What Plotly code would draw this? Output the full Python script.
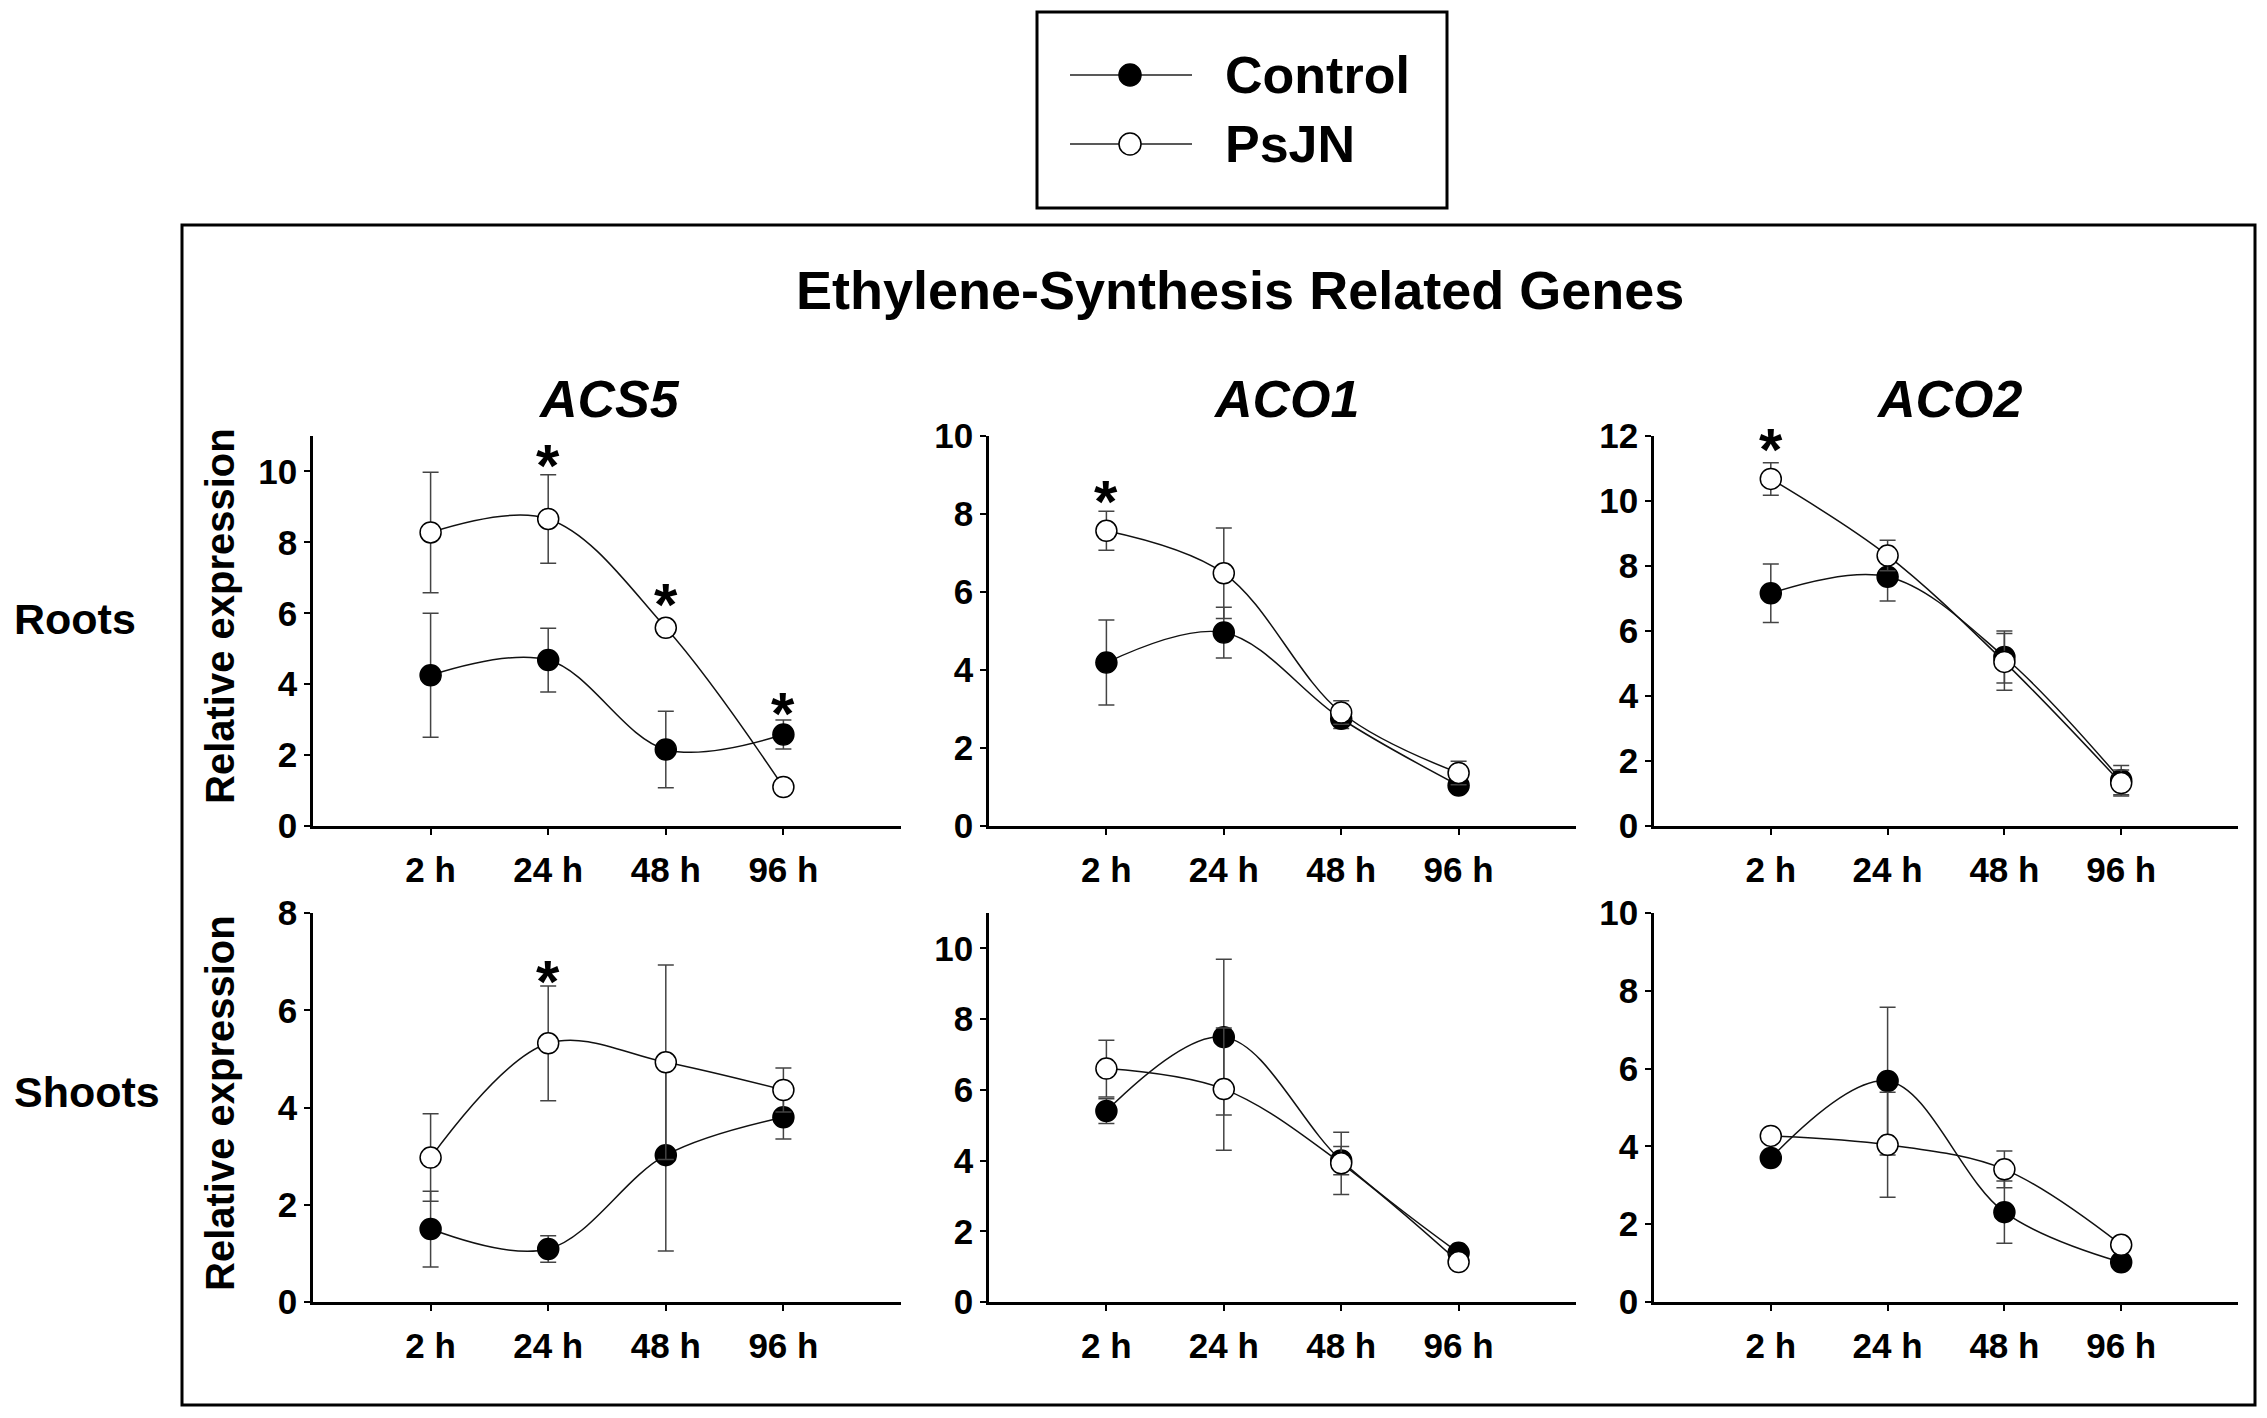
import plotly.graph_objects as go

W, H = 2267, 1418
FONT = "Liberation Sans"

times = ["2 h", "24 h", "48 h", "96 h"]
xpos = [0, 1, 2, 3]

genes = ["ACS5", "ACO1", "ACO2"]
rows = ["Roots", "Shoots"]

# Roots
acs5_root_ctrl = [4.25, 4.68, 2.16, 2.58]
acs5_root_ctrl_err = [1.75, 0.90, 1.08, 0.41]
acs5_root_psjn = [8.28, 8.66, 5.59, 1.10]
acs5_root_psjn_err = [1.70, 1.25, 0.15, 0.10]

aco1_root_ctrl = [4.19, 4.96, 2.75, 1.04]
aco1_root_ctrl_err = [1.09, 0.65, 0.25, 0.15]
aco1_root_psjn = [7.57, 6.48, 2.91, 1.36]
aco1_root_psjn_err = [0.50, 1.16, 0.30, 0.30]

aco2_root_ctrl = [7.16, 7.67, 5.20, 1.41]
aco2_root_ctrl_err = [0.90, 0.75, 0.80, 0.45]
aco2_root_psjn = [10.68, 8.32, 5.05, 1.32]
aco2_root_psjn_err = [0.50, 0.47, 0.87, 0.40]

# Shoots
acs5_shoot_ctrl = [1.50, 1.09, 3.02, 3.80]
acs5_shoot_ctrl_err = [0.78, 0.27, 1.97, 0.45]
acs5_shoot_psjn = [2.97, 5.32, 4.93, 4.36]
acs5_shoot_psjn_err = [0.90, 1.18, 2.00, 0.45]

aco1_shoot_ctrl = [5.40, 7.49, 4.00, 1.39]
aco1_shoot_ctrl_err = [0.35, 2.20, 0.40, 0.10]
aco1_shoot_psjn = [6.60, 6.02, 3.92, 1.13]
aco1_shoot_psjn_err = [0.80, 1.73, 0.88, 0.10]

aco2_shoot_ctrl = [3.70, 5.68, 2.31, 1.02]
aco2_shoot_ctrl_err = [0.15, 1.90, 0.80, 0.10]
aco2_shoot_psjn = [4.27, 4.04, 3.41, 1.47]
aco2_shoot_psjn_err = [0.15, 1.35, 0.47, 0.10]

# significance marks: (panel index, time index, y value of asterisk)
asterisks = [(0, 1, 10.38), (0, 2, 6.47), (0, 3, 3.41), (1, 0, 8.53), (2, 0, 11.83), (3, 1, 6.76)]

panels = [
    (acs5_root_ctrl, acs5_root_ctrl_err, acs5_root_psjn, acs5_root_psjn_err),
    (aco1_root_ctrl, aco1_root_ctrl_err, aco1_root_psjn, aco1_root_psjn_err),
    (aco2_root_ctrl, aco2_root_ctrl_err, aco2_root_psjn, aco2_root_psjn_err),
    (acs5_shoot_ctrl, acs5_shoot_ctrl_err, acs5_shoot_psjn, acs5_shoot_psjn_err),
    (aco1_shoot_ctrl, aco1_shoot_ctrl_err, aco1_shoot_psjn, aco1_shoot_psjn_err),
    (aco2_shoot_ctrl, aco2_shoot_ctrl_err, aco2_shoot_psjn, aco2_shoot_psjn_err),
]
yranges = [11, 10, 12, 8, 11, 10]

# layout geometry in pixels
col_px = [(313, 901), (989, 1576), (1654, 2238)]
col_xrange = [(-1.0, 4.0), (-1.0, 4.0), (-1.0, 4.0)]
row_px = [(436, 826), (913, 1302)]

def px_x(p):
    return p / W

def px_y(p):
    return 1 - p / H

fig = go.Figure()
layout = dict(
    template="none",
    width=W, height=H, margin=dict(l=0, r=0, t=0, b=0, pad=0, autoexpand=False),
    paper_bgcolor="white", plot_bgcolor="white", showlegend=False,
    font=dict(family=FONT, color="black"),
)
annotations = []
shapes = []

for i, (c, ce, p, pe) in enumerate(panels):
    r, col = divmod(i, 3)
    n = i + 1
    xa = "x" if n == 1 else f"x{n}"
    ya = "y" if n == 1 else f"y{n}"
    xkey = "xaxis" if n == 1 else f"xaxis{n}"
    ykey = "yaxis" if n == 1 else f"yaxis{n}"
    for vals, errs, fill in ((c, ce, "black"), (p, pe, "white")):
        fig.add_trace(go.Scatter(
            x=xpos, y=vals, xaxis=xa, yaxis=ya, mode="lines+markers",
            line=dict(color="#111", width=1.5, shape="spline", smoothing=1.0),
            marker=dict(symbol="circle", size=21, color=fill, line=dict(color="black", width=1.5)),
            error_y=dict(type="data", array=errs, visible=True, color="#444", thickness=1.5, width=8),
            cliponaxis=False,
        ))
    x0, x1 = col_px[col]
    y0, y1 = row_px[r]
    layout[xkey] = dict(
        domain=[px_x(x0), px_x(x1)], anchor=ya, range=list(col_xrange[col]), automargin=False,
        tickmode="array", tickvals=xpos, ticktext=times, showgrid=False, zeroline=False,
        showline=True, linecolor="black", linewidth=2.5, ticks="outside",
        ticklen=6, tickwidth=2, tickcolor="black", ticklabelstandoff=5,
        tickfont=dict(family=FONT, size=35, color="black", weight="bold"),
    )
    layout[ykey] = dict(
        domain=[px_y(y1), px_y(y0)], anchor=xa, range=[0, yranges[i]], automargin=False,
        tickmode="array", tickvals=list(range(0, yranges[i] + 1, 2)), showgrid=False, zeroline=False,
        showline=True, linecolor="black", linewidth=2.5, ticks="outside",
        ticklen=6, tickwidth=2, tickcolor="black",
        tickfont=dict(family=FONT, size=35, color="black", weight="bold"),
    )

for (pi, ti, yv) in asterisks:
    n = pi + 1
    xa = "x" if n == 1 else f"x{n}"
    ya = "y" if n == 1 else f"y{n}"
    annotations.append(dict(
        x=xpos[ti], y=yv, xref=xa, yref=ya, text="<b>*</b>", showarrow=False,
        font=dict(family=FONT, size=60, color="black"), xanchor="center", yanchor="middle", yshift=-8,
    ))

# titles
annotations.append(dict(x=px_x(1240), y=px_y(290), xref="paper", yref="paper",
                        text="<b>Ethylene-Synthesis Related Genes</b>", showarrow=False,
                        font=dict(family=FONT, size=54), xanchor="center", yanchor="middle"))
for g, cx in zip(genes, [609, 1286, 1949]):
    annotations.append(dict(x=px_x(cx), y=px_y(399), xref="paper", yref="paper",
                            text=f"<b><i>{g}</i></b>", showarrow=False,
                            font=dict(family=FONT, size=52), xanchor="center", yanchor="middle"))
for lab, cy in zip(rows, [619, 1092]):
    annotations.append(dict(x=px_x(12), y=px_y(cy), xref="paper", yref="paper",
                            text=f"<b>{lab}</b>", showarrow=False,
                            font=dict(family=FONT, size=43), xanchor="left", yanchor="middle"))
for cy in [616, 1103]:
    annotations.append(dict(x=px_x(220), y=px_y(cy), xref="paper", yref="paper",
                            text="<b>Relative expression</b>", showarrow=False, textangle=-90,
                            font=dict(family=FONT, size=40), xanchor="center", yanchor="middle"))

# outer frame
shapes.append(dict(type="rect", xref="paper", yref="paper",
                   x0=px_x(182), x1=px_x(2255), y0=px_y(1405), y1=px_y(225),
                   line=dict(color="black", width=3), fillcolor="rgba(0,0,0,0)", layer="below"))

# legend box on its own axes
LX0, LX1, LY0, LY1 = 1037, 1447, 12, 208
shapes.append(dict(type="rect", xref="paper", yref="paper",
                   x0=px_x(LX0), x1=px_x(LX1), y0=px_y(LY1), y1=px_y(LY0),
                   line=dict(color="black", width=3), fillcolor="rgba(0,0,0,0)"))
layout["xaxis7"] = dict(domain=[px_x(LX0), px_x(LX1)], anchor="y7", range=[0, LX1 - LX0], visible=False, automargin=False)
layout["yaxis7"] = dict(domain=[px_y(LY1), px_y(LY0)], anchor="x7", range=[LY1 - LY0, 0], visible=False, automargin=False)
legend_names = ["Control", "PsJN"]
legend_fill = ["black", "white"]
legend_rows = [63, 132]
for name, fill, ly in zip(legend_names, legend_fill, legend_rows):
    fig.add_trace(go.Scatter(x=[33, 93, 155], y=[ly, ly, ly], xaxis="x7", yaxis="y7",
                             mode="lines", line=dict(color="#222", width=1.5), hoverinfo="skip"))
    fig.add_trace(go.Scatter(x=[93], y=[ly], xaxis="x7", yaxis="y7", mode="markers",
                             marker=dict(symbol="circle", size=22, color=fill, line=dict(color="black", width=1.5))))
    annotations.append(dict(x=186, y=ly, xref="x7", yref="y7", text=f"<b>{name}</b>", showarrow=False,
                            font=dict(family=FONT, size=52), xanchor="left", yanchor="middle"))

layout["annotations"] = annotations
layout["shapes"] = shapes
fig.update_layout(**layout)
fig.write_html(
    "out.html",
    config={"displayModeBar": False},
    post_script="document.body.style.margin='0';document.body.style.overflow='hidden';document.documentElement.style.overflow='hidden';",
)
